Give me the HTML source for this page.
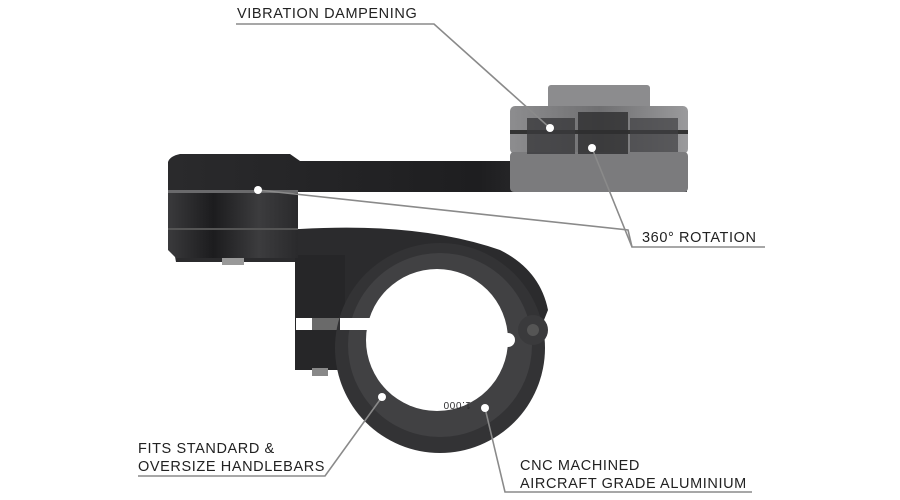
<!DOCTYPE html>
<html><head><meta charset="utf-8"><style>
html,body{margin:0;padding:0;background:#fff;}
svg{display:block}
text{font-family:"Liberation Sans",sans-serif;font-size:14.5px;fill:#222;letter-spacing:0.6px}
</style></head><body>
<svg width="900" height="500" viewBox="0 0 900 500" xmlns="http://www.w3.org/2000/svg">
<defs>
<linearGradient id="hub" x1="0" x2="1" y1="0" y2="0">
<stop offset="0" stop-color="#3a3a3c"/><stop offset="0.35" stop-color="#1c1c1e"/><stop offset="0.7" stop-color="#3c3c3e"/><stop offset="1" stop-color="#2a2a2c"/></linearGradient>
<linearGradient id="arm" x1="0" x2="1" y1="0" y2="0">
<stop offset="0" stop-color="#2a2a2c"/><stop offset="0.6" stop-color="#1e1e20"/><stop offset="1" stop-color="#4a4a4c"/></linearGradient>
<linearGradient id="head" x1="0" x2="1" y1="0" y2="0">
<stop offset="0" stop-color="#8d8d8f"/><stop offset="0.5" stop-color="#6f6f71"/><stop offset="1" stop-color="#9a9a9c"/></linearGradient>
</defs>
<!-- body connecting hub to clamp -->
<path d="M170 229 L300 229 Q420 222 500 250 Q540 270 548 310 L540 330 L300 330 L300 262 L176 262 Z" fill="#2b2b2d"/>
<!-- stem -->
<rect x="295" y="255" width="50" height="115" fill="#262628"/>
<rect x="296" y="318" width="50" height="12" fill="#fff"/>
<rect x="312" y="318" width="30" height="12" fill="#6a6a6a"/>
<rect x="312" y="368" width="16" height="8" fill="#888"/>
<!-- clamp ring -->
<circle cx="440" cy="348" r="105" fill="#333335"/>
<circle cx="440" cy="345" r="92" fill="#414143"/>
<circle cx="437" cy="340" r="71" fill="#fff"/>
<rect x="340" y="318" width="30" height="12" fill="#fff"/>
<circle cx="508" cy="340" r="7" fill="#fff"/>
<circle cx="533" cy="330" r="15" fill="#3a3a3c"/>
<circle cx="533" cy="330" r="6" fill="#555"/>
<text x="445" y="410" style="font-size:10px;fill:#2e2e30" transform="rotate(180 458 406)">1.000</text>
<!-- hub -->
<rect x="222" y="257" width="22" height="8" fill="#999"/>
<path d="M168 229 L298 229 L298 258 L176 258 L168 250 Z" fill="url(#hub)"/>
<rect x="168" y="192" width="130" height="36" fill="url(#hub)"/>
<rect x="168" y="228" width="130" height="2" fill="#555"/>
<!-- arm -->
<path d="M168 162 Q170 156 180 154 L290 154 L300 161 L687 161 L687 192 L168 192 Z" fill="url(#arm)"/>
<rect x="168" y="190" width="130" height="3" fill="#6a6a6c"/>
<!-- head -->
<rect x="548" y="85" width="102" height="26" rx="3" fill="#8c8c8e"/>
<rect x="510" y="106" width="178" height="48" rx="5" fill="url(#head)"/>
<rect x="510" y="152" width="178" height="40" rx="4" fill="#7b7b7d"/>
<rect x="510" y="130" width="178" height="4" fill="#333"/>
<rect x="527" y="118" width="48" height="36" fill="#3a3a3c" opacity="0.8"/>
<rect x="578" y="112" width="50" height="42" fill="#2e2e30" opacity="0.8"/>
<rect x="630" y="118" width="48" height="34" fill="#3f3f41" opacity="0.7"/>
<!-- callout lines -->
<g stroke="#8a8a8a" stroke-width="1.6" fill="none">
<polyline points="236,24 434,24 550,128"/>
<polyline points="258,190 628,230 632,247 765,247"/>
<polyline points="592,148 632,247"/>
<polyline points="138,476 325,476 382,397"/>
<polyline points="485,408 505,492 752,492"/>
</g>
<g fill="#fff">
<circle cx="550" cy="128" r="4"/><circle cx="258" cy="190" r="4"/><circle cx="592" cy="148" r="4"/>
<circle cx="382" cy="397" r="4"/><circle cx="485" cy="408" r="4"/>
</g>
<text x="237" y="18">VIBRATION DAMPENING</text>
<text x="642" y="242">360° ROTATION</text>
<text x="138" y="453">FITS STANDARD &amp;</text>
<text x="138" y="471">OVERSIZE HANDLEBARS</text>
<text x="520" y="470">CNC MACHINED</text>
<text x="520" y="488">AIRCRAFT GRADE ALUMINIUM</text>
</svg>
</body></html>
